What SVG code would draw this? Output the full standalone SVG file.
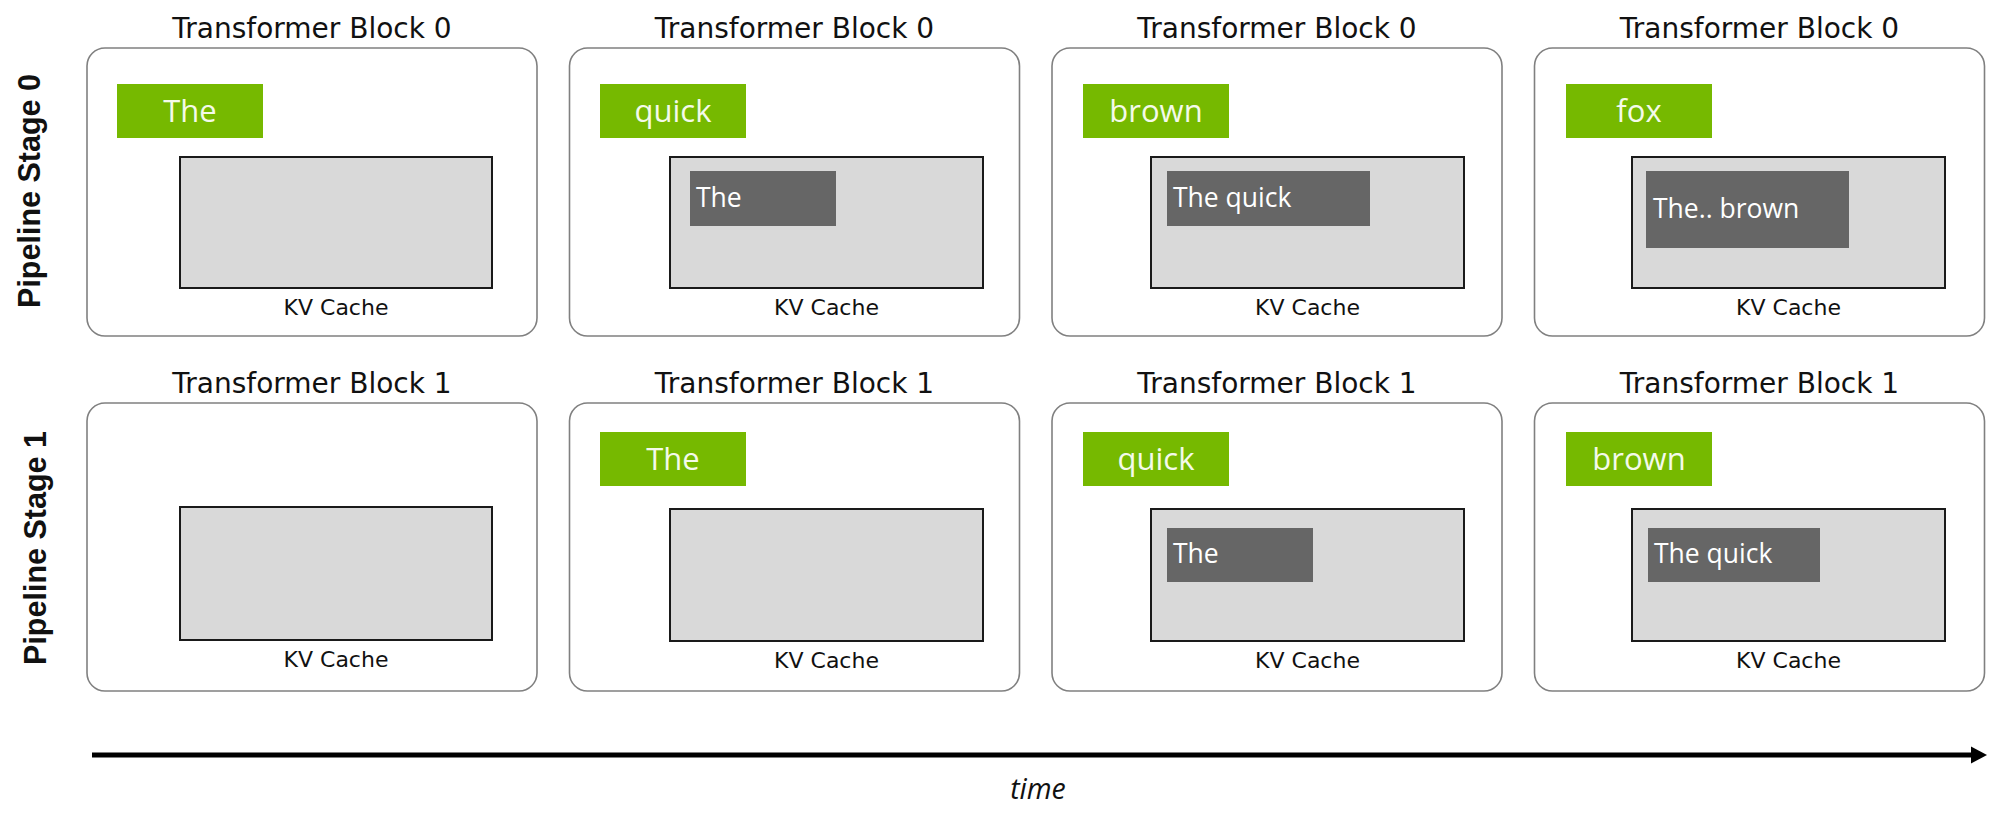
<svg xmlns="http://www.w3.org/2000/svg" width="1999" height="825" viewBox="0 0 1999 825">
<style>
.bg{fill:#ffffff}
.card{fill:#ffffff;stroke:#808080;stroke-width:1.6}
.title{font-family:"DejaVu Sans",sans-serif;font-size:28px;fill:#111;text-anchor:middle}
.tok{fill:#76b900}
.toktxt{font-family:"Open Sans",sans-serif;font-size:31px;fill:#f4faea;text-anchor:middle}
.kv{fill:#d9d9d9;stroke:#1a1a1a;stroke-width:2}
.kvlbl{font-family:"DejaVu Sans",sans-serif;font-size:22px;fill:#111;text-anchor:middle}
.cached{fill:#666666}
.cachedtxt{font-family:"Open Sans",sans-serif;font-size:26.5px;fill:#ffffff}
.stage{font-family:"Liberation Sans",Arial,sans-serif;font-size:30.5px;font-weight:bold;fill:#111;text-anchor:middle}
.time{font-family:"Open Sans",sans-serif;font-size:28.5px;font-style:italic;fill:#111;text-anchor:middle}
</style>
<rect class="bg" x="0" y="0" width="1999" height="825"/>

<g id="stage-labels">
<text class="stage" transform="translate(40,191) rotate(-90)">Pipeline Stage 0</text>
<text class="stage" transform="translate(46,548) rotate(-90)">Pipeline Stage 1</text>
</g>

<!-- Row 1 -->
<g id="s0-t0">
<text class="title" x="312" y="38">Transformer Block 0</text>
<rect class="card" x="87" y="48" width="450" height="288" rx="18"/>
<rect class="tok" x="117" y="84" width="146" height="54"/>
<text class="toktxt" x="190" y="122">The</text>
<rect class="kv" x="180" y="157" width="312" height="131"/>
<text class="kvlbl" x="336" y="315">KV Cache</text>
</g>

<g id="s0-t1">
<text class="title" x="794.5" y="38">Transformer Block 0</text>
<rect class="card" x="569.5" y="48" width="450" height="288" rx="18"/>
<rect class="tok" x="600" y="84" width="146" height="54"/>
<text class="toktxt" x="673" y="122">quick</text>
<rect class="kv" x="670" y="157" width="313" height="131"/>
<rect class="cached" x="690" y="171" width="146" height="55"/>
<text class="cachedtxt" x="696" y="207">The</text>
<text class="kvlbl" x="826.5" y="315">KV Cache</text>
</g>

<g id="s0-t2">
<text class="title" x="1277" y="38">Transformer Block 0</text>
<rect class="card" x="1052" y="48" width="450" height="288" rx="18"/>
<rect class="tok" x="1083" y="84" width="146" height="54"/>
<text class="toktxt" x="1156" y="122">brown</text>
<rect class="kv" x="1151" y="157" width="313" height="131"/>
<rect class="cached" x="1167" y="171" width="203" height="55"/>
<text class="cachedtxt" x="1173" y="207">The quick</text>
<text class="kvlbl" x="1307.5" y="315">KV Cache</text>
</g>

<g id="s0-t3">
<text class="title" x="1759.5" y="38">Transformer Block 0</text>
<rect class="card" x="1534.5" y="48" width="450" height="288" rx="18"/>
<rect class="tok" x="1566" y="84" width="146" height="54"/>
<text class="toktxt" x="1639" y="122">fox</text>
<rect class="kv" x="1632" y="157" width="313" height="131"/>
<rect class="cached" x="1646" y="171" width="203" height="77"/>
<text class="cachedtxt" x="1653" y="218">The.. brown</text>
<text class="kvlbl" x="1788.5" y="315">KV Cache</text>
</g>

<!-- Row 2 -->
<g id="s1-t0">
<text class="title" x="312" y="393">Transformer Block 1</text>
<rect class="card" x="87" y="403" width="450" height="288" rx="18"/>
<rect class="kv" x="180" y="507" width="312" height="133"/>
<text class="kvlbl" x="336" y="667">KV Cache</text>
</g>

<g id="s1-t1">
<text class="title" x="794.5" y="393">Transformer Block 1</text>
<rect class="card" x="569.5" y="403" width="450" height="288" rx="18"/>
<rect class="tok" x="600" y="432" width="146" height="54"/>
<text class="toktxt" x="673" y="470">The</text>
<rect class="kv" x="670" y="509" width="313" height="132"/>
<text class="kvlbl" x="826.5" y="668">KV Cache</text>
</g>

<g id="s1-t2">
<text class="title" x="1277" y="393">Transformer Block 1</text>
<rect class="card" x="1052" y="403" width="450" height="288" rx="18"/>
<rect class="tok" x="1083" y="432" width="146" height="54"/>
<text class="toktxt" x="1156" y="470">quick</text>
<rect class="kv" x="1151" y="509" width="313" height="132"/>
<rect class="cached" x="1167" y="528" width="146" height="54"/>
<text class="cachedtxt" x="1173" y="563">The</text>
<text class="kvlbl" x="1307.5" y="668">KV Cache</text>
</g>

<g id="s1-t3">
<text class="title" x="1759.5" y="393">Transformer Block 1</text>
<rect class="card" x="1534.5" y="403" width="450" height="288" rx="18"/>
<rect class="tok" x="1566" y="432" width="146" height="54"/>
<text class="toktxt" x="1639" y="470">brown</text>
<rect class="kv" x="1632" y="509" width="313" height="132"/>
<rect class="cached" x="1648" y="528" width="172" height="54"/>
<text class="cachedtxt" x="1654" y="563">The quick</text>
<text class="kvlbl" x="1788.5" y="668">KV Cache</text>
</g>

<g id="connectors">
<line x1="92" y1="755" x2="1973" y2="755" stroke="#000" stroke-width="5"/>
<polygon points="1971,746.5 1987,755 1971,763.5" fill="#000"/>
</g>
<text class="time" x="1038" y="799">time</text>
</svg>
